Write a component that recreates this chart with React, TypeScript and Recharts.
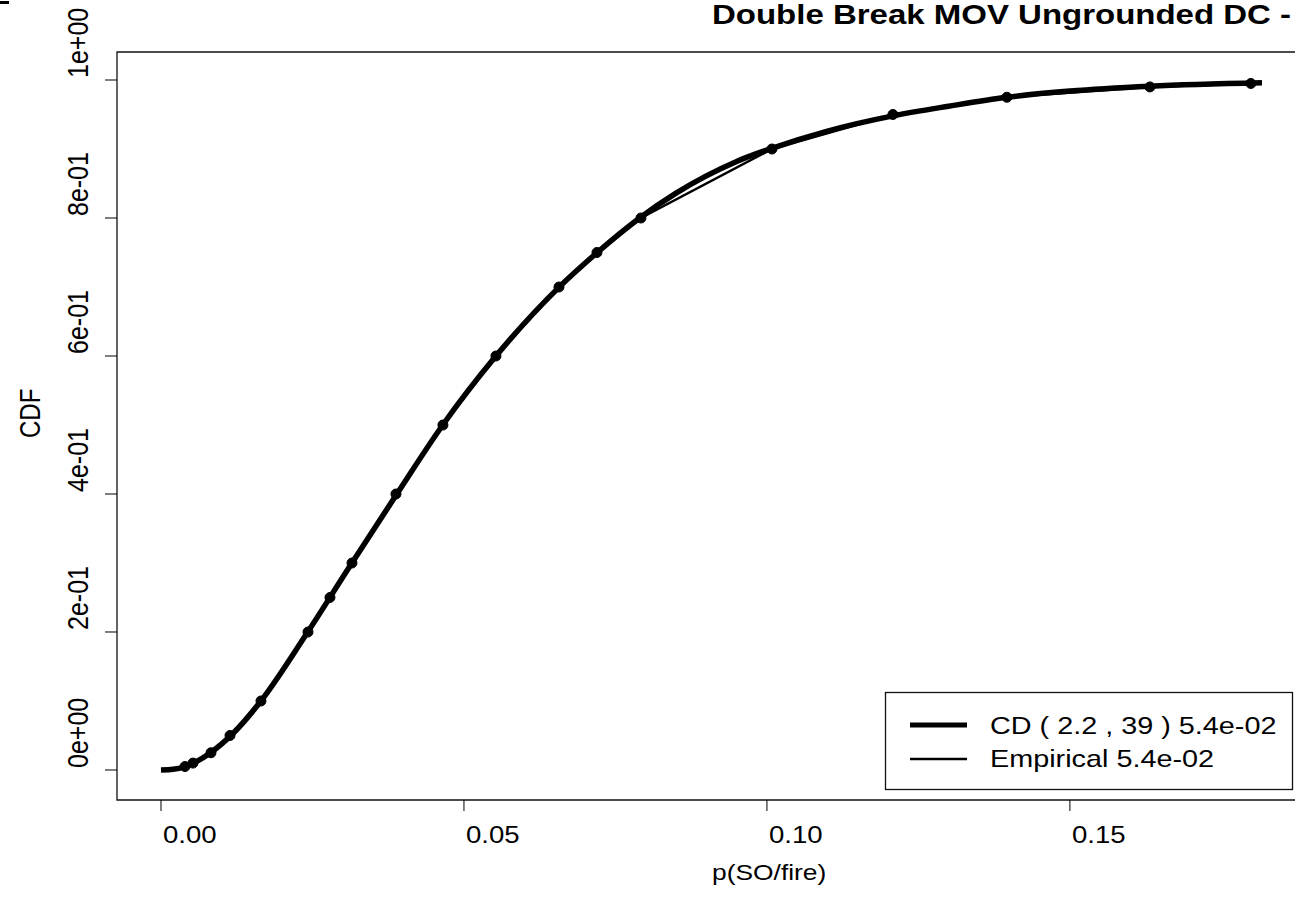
import React from 'react';
import {
  ComposedChart,
  Line,
  XAxis,
  YAxis,
  ReferenceArea
} from 'recharts';

// fitted CD curve
const cdX = [0, 0.002, 0.004, 0.008, 0.012, 0.0165, 0.024, 0.031, 0.039, 0.0465, 0.055, 0.0655, 0.072, 0.079, 0.085, 0.09, 0.095, 0.1008, 0.11, 0.1208, 0.13, 0.1396, 0.15, 0.1632, 0.1817];
const cdY = [0, 0.001, 0.005, 0.024, 0.054, 0.1, 0.197, 0.293, 0.401, 0.5, 0.597, 0.698, 0.75, 0.8, 0.836, 0.861, 0.882, 0.901, 0.926, 0.948, 0.962, 0.975, 0.984, 0.991, 0.996];

// empirical percentiles (the dots)
const empX = [0.00396, 0.00528, 0.00825, 0.01139, 0.0165, 0.02426, 0.02789, 0.03152, 0.03878, 0.04653, 0.05528, 0.06568, 0.07195, 0.07921, 0.10083, 0.12079, 0.1396, 0.1632, 0.17987];
const empY = [0.005, 0.01, 0.025, 0.05, 0.1, 0.2, 0.25, 0.3, 0.4, 0.5, 0.6, 0.7, 0.75, 0.8, 0.9, 0.95, 0.975, 0.99, 0.995];

const xTicks = [0, 0.05, 0.1, 0.15];
const xTickLabels = ['0.00', '0.05', '0.10', '0.15'];
const yTicks = [0, 0.2, 0.4, 0.6, 0.8, 1];
const yTickLabels = ['0e+00', '2e-01', '4e-01', '6e-01', '8e-01', '1e+00'];

const legendLabels = ['CD ( 2.2 , 39 ) 5.4e-02', 'Empirical 5.4e-02'];

const xDomain = [-0.00726, 0.1888];
const yDomain = [-0.0435, 1.0406];

const FONT = '"Liberation Sans", Arial, sans-serif';
const SX = 1.2; // the original render is stretched sideways

const cdData = cdX.map((x, i) => ({ x, y: cdY[i] }));
const empData = empX.map((x, i) => ({ x, y: empY[i] }));

function SText({ x, y, size, bold, rot, children }: any) {
  const tf = rot
    ? `translate(${x},${y}) rotate(-90) scale(1,${SX})`
    : `translate(${x},${y}) scale(${SX},1)`;
  return (
    <text transform={tf} x={0} y={0} fontSize={size} fontFamily={FONT} fontWeight={bold ? 'bold' : 'normal'} fill="#000">
      {children}
    </text>
  );
}

const XTick = (props: any) => {
  const { x, payload } = props;
  const i = xTicks.indexOf(payload.value);
  return <SText x={x + 2} y={843} size={23}>{xTickLabels[i]}</SText>;
};

const YTick = (props: any) => {
  const { y, payload } = props;
  const i = yTicks.indexOf(payload.value);
  return <SText x={88} y={y - 2} size={25} rot>{yTickLabels[i]}</SText>;
};

export default function App() {
  return (
    <div style={{ position: 'fixed', left: 0, top: 0, width: 1295, height: 898, overflow: 'hidden', background: '#fff' }}>
      <ComposedChart width={1320} height={898} margin={{ top: 52, right: 15, bottom: 68, left: 57 }}>
        <XAxis
          dataKey="x"
          type="number"
          domain={xDomain}
          allowDataOverflow
          ticks={xTicks}
          tick={<XTick />}
          tickSize={11}
          tickLine={{ stroke: '#000', strokeWidth: 1 }}
          axisLine={false}
          height={30}
        />
        <YAxis
          dataKey="y"
          type="number"
          domain={yDomain}
          allowDataOverflow
          ticks={yTicks}
          tick={<YTick />}
          tickSize={12}
          tickLine={{ stroke: '#000', strokeWidth: 1 }}
          axisLine={false}
          width={60}
        />
        <ReferenceArea
          x1={xDomain[0]}
          x2={xDomain[1]}
          y1={yDomain[0]}
          y2={yDomain[1]}
          fill="none"
          fillOpacity={0}
          stroke="#111"
          strokeWidth={1.3}
          ifOverflow="visible"
        />
        <Line
          data={cdData}
          dataKey="y"
          type="monotoneX"
          stroke="#000"
          strokeWidth={5.5}
          dot={false}
          isAnimationActive={false}
        />
        <Line
          data={empData}
          dataKey="y"
          type="linear"
          stroke="#000"
          strokeWidth={2.5}
          dot={{ r: 5, fill: '#000', stroke: '#000', strokeWidth: 1 }}
          isAnimationActive={false}
        />
      </ComposedChart>

      <svg width={1295} height={898} style={{ position: 'absolute', left: 0, top: 0, pointerEvents: 'none' }}>
        <rect x={0} y={1} width={9} height={3} fill="#000" />
        <SText x={712} y={24} size={27.5} bold>Double Break MOV Ungrounded DC -</SText>
        <SText x={712} y={880} size={22}>p(SO/fire)</SText>
        <SText x={40} y={438} size={24} rot>CDF</SText>

        <rect x={885.5} y={692.5} width={407} height={97} fill="#fff" stroke="#111" strokeWidth={1.3} />
        <line x1={910} x2={967} y1={725} y2={725} stroke="#000" strokeWidth={5} />
        <line x1={910} x2={967} y1={759} y2={759} stroke="#000" strokeWidth={2.5} />
        <SText x={990} y={734} size={24}>{legendLabels[0]}</SText>
        <SText x={990} y={767} size={24}>{legendLabels[1]}</SText>
      </svg>
    </div>
  );
}
